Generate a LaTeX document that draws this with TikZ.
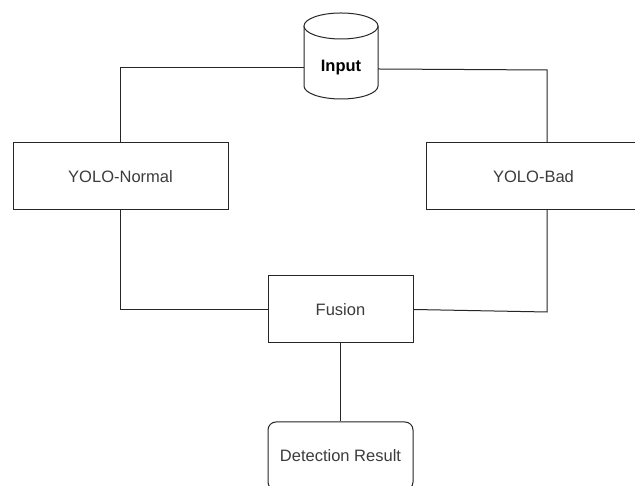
\documentclass[tikz,border=0pt]{standalone}
\usepackage{fontspec}
\setmainfont{Liberation Sans}
\definecolor{edge}{HTML}{262626}
\definecolor{label}{HTML}{3C3C3C}
\tikzset{
  x=1pt, y=1pt,
  wire/.style={draw=edge, line width=1pt},
  procbox/.style={draw=edge, line width=1pt, fill=white, rectangle,
    inner sep=0pt, font=\fontsize{16.5}{19}\selectfont, text=label},
  resultbox/.style={procbox, rounded corners=8pt},
}
\begin{document}
\begin{tikzpicture}
  \useasboundingbox (0,0) rectangle (635,486);
  \fill[white] (0,0) rectangle (635,486);

  % database cylinder
  \draw[edge, line width=1pt, fill=white]
    (304,460) -- (304,400) arc[start angle=180, end angle=360, x radius=37, y radius=13]
    -- (378,460);
  \draw[edge, line width=1pt, fill=white] (341,460) ellipse[x radius=37, y radius=13];
  \node[minimum width=74pt, minimum height=50pt, inner sep=0pt,
        font=\fontsize{16.5}{19}\selectfont\bfseries] (input) at (341,418) {Input};

  % boxes
  \node[procbox, minimum width=215pt, minimum height=67pt] (normal) at (120.5,309.5) {YOLO-Normal};
  \node[procbox, minimum width=215pt, minimum height=67pt] (bad) at (533.5,309.5) {YOLO-Bad};
  \node[procbox, minimum width=145pt, minimum height=67pt] (fusion) at (340.5,176.5) {Fusion};
  \node[resultbox, minimum width=145pt, minimum height=68pt] (result) at (340.5,30) {Detection Result};

  % bend points
  \coordinate (badtop) at (547,343);
  \coordinate (badbot) at (547,276);

  % connectors
  \draw[wire] (input.west) -| (normal.north);
  \draw[wire] ([yshift=-1pt]input.east) -- (547,416) -- (badtop);
  \draw[wire] (fusion.west) -| (normal.south);
  \draw[wire] (fusion.east) -- (547,174) -- (badbot);
  \draw[wire] (fusion.south) -- (result.north);
\end{tikzpicture}
\end{document}
